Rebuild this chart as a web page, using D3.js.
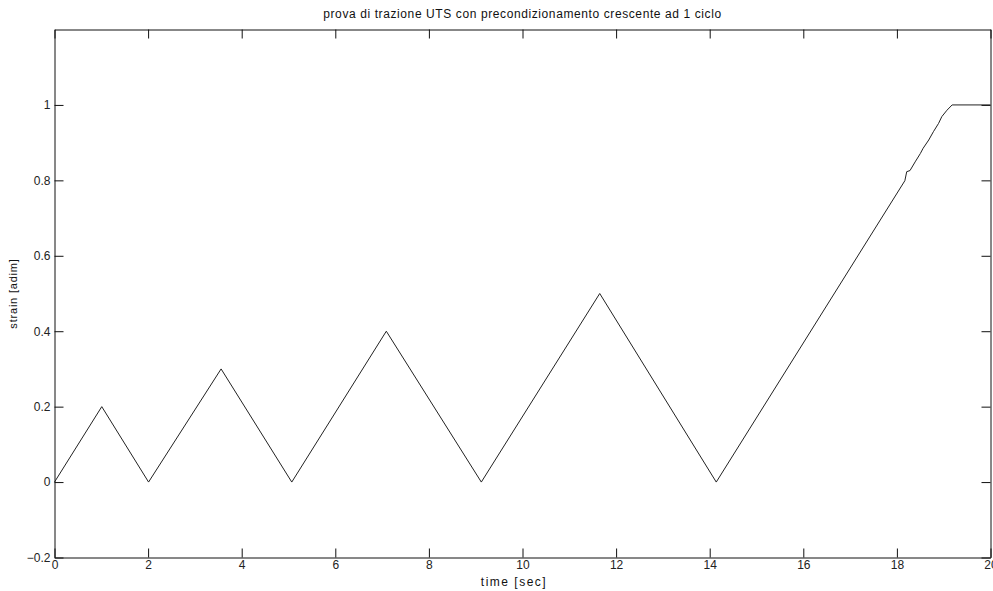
<!DOCTYPE html>
<html>
<head>
<meta charset="utf-8">
<script src="https://cdn.jsdelivr.net/npm/d3@7"></script>
<style>
  body { margin: 0; background: #fff; }
  svg { display: block; font-family: "Liberation Sans", Arial, sans-serif; }
</style>
</head>
<body>
<div id="chart"></div>
<script>
// strain vs time
let times  = [0, 1.01, 2.01, 3.56, 5.07, 7.09, 9.12, 11.65, 14.14, 18.17, 18.21, 18.28, 18.39, 18.50, 18.56, 18.68, 18.78, 18.89, 18.96, 19.07, 19.18, 20]
let strain = [0, 0.2, 0, 0.3, 0, 0.4, 0, 0.5, 0, 0.799, 0.823, 0.826, 0.849, 0.871, 0.885, 0.907, 0.929, 0.951, 0.969, 0.986, 1.0, 1.0]
let xTicks = [0, 2, 4, 6, 8, 10, 12, 14, 16, 18, 20]
let yTicks = [-0.2, 0, 0.2, 0.4, 0.6, 0.8, 1]

let data = times.map((t, i) => ({t: t, s: strain[i]}))

let width = 993, height = 591
let margin = ({top: 29.5, right: 2.5, bottom: 33.5, left: 54.5})

let svg = d3.select("#chart").append("svg")
    .attr("width", width)
    .attr("height", height)

let x = d3.scaleLinear()
    .domain([0, 20])
    .range([margin.left, width - margin.right])

let y = d3.scaleLinear()
    .domain([-0.2, 1.2])
    .range([height - margin.bottom, margin.top])

let fmt = d => d3.format("~g")(d)

let tick = 9
let axisColor = "#111"

// bottom + top
svg.append("g")
    .attr("transform", `translate(0,${y(-0.2)})`)
    .call(d3.axisBottom(x).tickValues(xTicks).tickFormat(fmt).tickSizeInner(-tick).tickSizeOuter(0).tickPadding(3))
    .call(g => g.selectAll("text").attr("font-size", 12).attr("fill", "#222"))

svg.append("g")
    .attr("transform", `translate(0,${y(1.2)})`)
    .call(d3.axisTop(x).tickValues(xTicks).tickFormat("").tickSizeInner(-tick).tickSizeOuter(0))

// left + right
svg.append("g")
    .attr("transform", `translate(${x(0)},0)`)
    .call(d3.axisLeft(y).tickValues(yTicks).tickFormat(fmt).tickSizeInner(-tick).tickSizeOuter(0).tickPadding(4))
    .call(g => g.selectAll("text").attr("font-size", 12).attr("fill", "#222"))

svg.append("g")
    .attr("transform", `translate(${x(20)},0)`)
    .call(d3.axisRight(y).tickValues(yTicks).tickFormat("").tickSizeInner(-tick).tickSizeOuter(0))

svg.selectAll(".domain").attr("stroke", axisColor)
svg.selectAll(".tick line").attr("stroke", axisColor)
svg.selectAll(".tick text").attr("font-family", "Liberation Sans, Arial, sans-serif")

let line = d3.line()
    .x(d => x(d.t))
    .y(d => y(d.s))

svg.append("path")
    .datum(data)
    .attr("fill", "none")
    .attr("stroke", "#222")
    .attr("stroke-width", 1)
    .attr("d", line)

svg.append("text")
    .attr("x", (x(0) + x(20)) / 2)
    .attr("y", 18)
    .attr("text-anchor", "middle")
    .attr("font-size", 12)
    .attr("letter-spacing", 0.6)
    .attr("fill", "#111")
    .text("prova di trazione UTS con precondizionamento crescente ad 1 ciclo")

svg.append("text")
    .attr("x", 514)
    .attr("y", 586)
    .attr("text-anchor", "middle")
    .attr("font-size", 12)
    .attr("letter-spacing", 1.5)
    .attr("fill", "#111")
    .text("time [sec]")

svg.append("text")
    .attr("transform", `translate(17,${(y(-0.2) + y(1.2)) / 2}) rotate(-90)`)
    .attr("text-anchor", "middle")
    .attr("font-size", 11)
    .attr("letter-spacing", 0.8)
    .attr("fill", "#111")
    .text("strain [adim]")
</script>
</body>
</html>
